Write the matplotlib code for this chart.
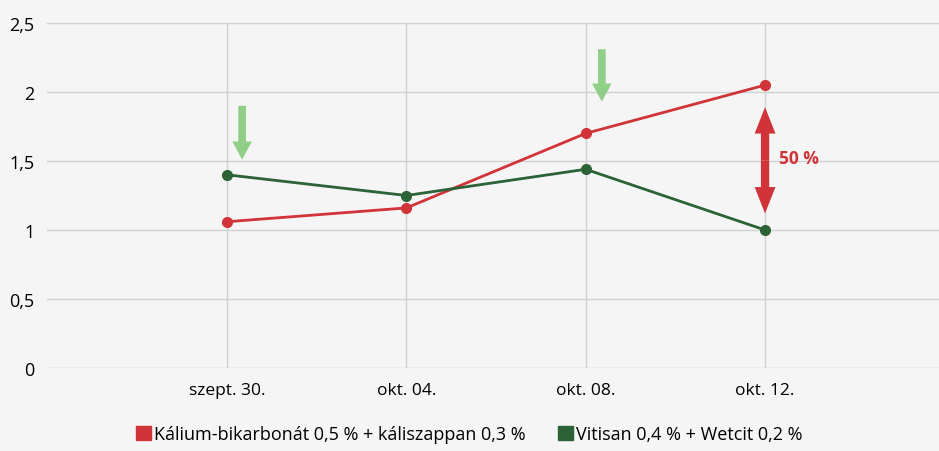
import numpy as np
import matplotlib.pyplot as plt

# Data
dates = ["szept. 30.", "okt. 04.", "okt. 08.", "okt. 12."]
kalium = [1.06, 1.16, 1.70, 2.05]
vitisan = [1.40, 1.25, 1.44, 1.00]
labels = ["Kálium-bikarbonát 0,5 % + káliszappan 0,3 %", "Vitisan 0,4 % + Wetcit 0,2 %"]
yticks = [0, 0.5, 1, 1.5, 2, 2.5]
ytick_labels = ["0", "0,5", "1", "1,5", "2", "2,5"]

red = "#d13438"
green = "#2b6236"
light_green = "#8fcf87"
bg = "#f5f5f5"

plt.rcParams['font.family'] = ['Open Sans', 'DejaVu Sans']

fig = plt.figure(figsize=(9.39, 4.52), dpi=100, facecolor=bg)
ax = fig.add_axes([47/939, 83/452, 892/939, 345/452], facecolor=bg)

x = np.arange(len(dates))
ax.plot(x, kalium, color=red, lw=2, marker='o', ms=7, label=labels[0], zorder=3)
ax.plot(x, vitisan, color=green, lw=2, marker='o', ms=7, label=labels[1], zorder=3)

ax.set_xlim(-1.004, 3.97)
ax.set_ylim(0, 2.5)
ax.set_xticks(x)
ax.set_xticklabels(dates, fontsize=12.5)
ax.set_yticks(yticks)
ax.set_yticklabels(ytick_labels, fontsize=13)
ax.tick_params(length=0, pad=9)
ax.tick_params(axis='x', pad=10)
ax.grid(True, color="#d0d0d0", lw=1)
ax.set_axisbelow(True)
for s in ax.spines.values():
    s.set_visible(False)

# treatment arrows
def down_arrow(xp, y0, y1):
    ax.annotate("", xy=(xp, y1), xytext=(xp, y0),
                arrowprops=dict(arrowstyle="simple,head_width=1.4,head_length=1.3,tail_width=0.55",
                                mutation_scale=10, color=light_green, shrinkA=0, shrinkB=0, lw=0),
                zorder=4)

down_arrow(0.084, 1.90, 1.51)
down_arrow(2.09, 2.31, 1.93)

# double arrow 50 %
mid = 1.505
for tip in (1.89, 1.12):
    ax.annotate("", xy=(3, tip), xytext=(3, mid),
                arrowprops=dict(arrowstyle="simple,head_width=1.5,head_length=1.9,tail_width=0.6",
                                mutation_scale=10, color=red, shrinkA=0, shrinkB=0, lw=0),
                zorder=4)
ax.text(3.08, 1.52, "50 %", color=red, fontsize=12.5, fontweight='bold', va='center', ha='left')

# square legend markers
leg_handles = [plt.Rectangle((0, 0), 1, 1, color=red), plt.Rectangle((0, 0), 1, 1, color=green)]
fig.legend(leg_handles, labels, loc='lower center', bbox_to_anchor=(0.5, -0.018), ncol=2,
           frameon=False, fontsize=13, handlelength=0.8, handleheight=0.8, handletextpad=0.2,
           columnspacing=1.8)

fig.savefig("out.png", dpi=100, facecolor=bg)
